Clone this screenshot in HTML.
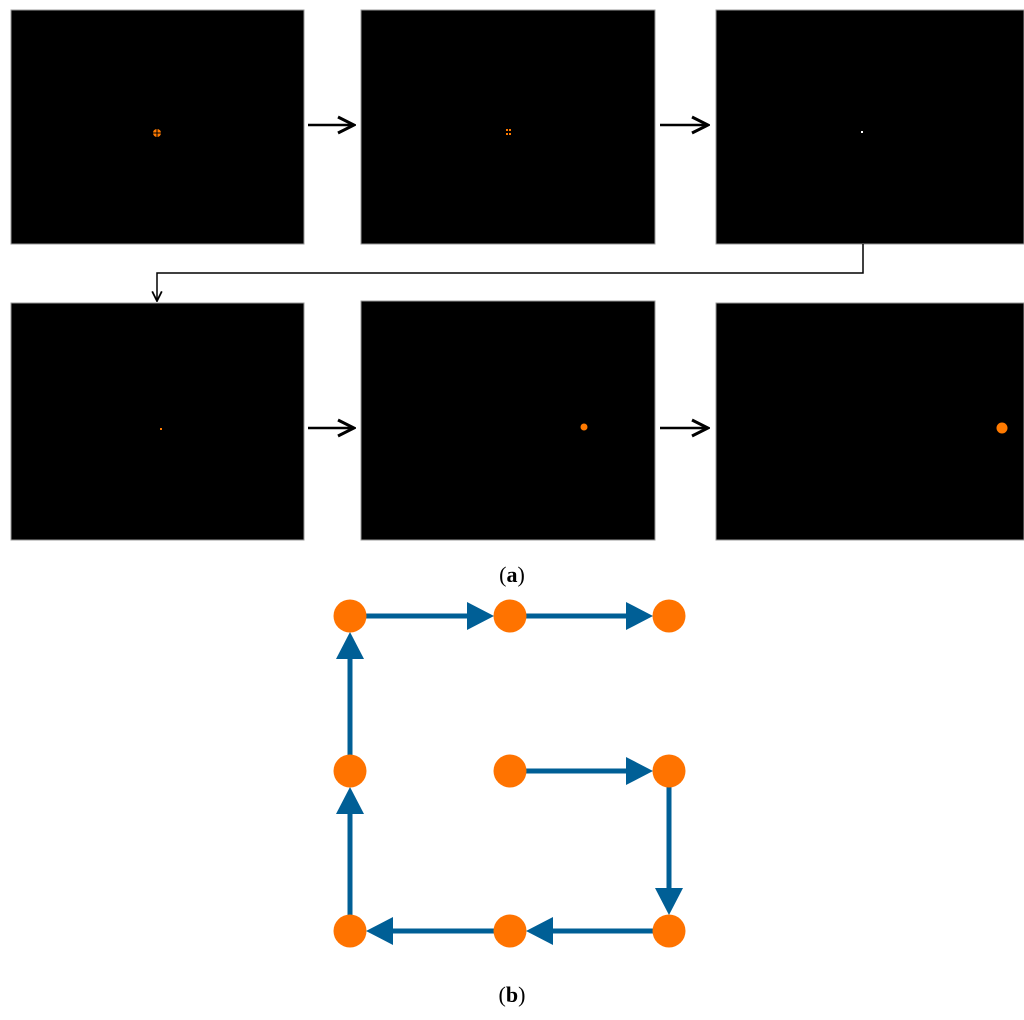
<!DOCTYPE html>
<html><head><style>
body{margin:0;background:#fff;width:1024px;height:1015px;overflow:hidden}
</style></head><body>
<svg width="1024" height="1015" xmlns="http://www.w3.org/2000/svg">
<defs>
<marker id="a" viewBox="0 0 10 10" refX="9" refY="5" markerWidth="8" markerHeight="8" orient="auto"><path d="M1 1L9 5L1 9" fill="none" stroke="#000" stroke-width="1.5"/></marker>
</defs>
<g fill="#000" stroke="#999" stroke-width="1">
<rect x="11" y="10" width="293" height="234"/>
<rect x="361" y="10" width="294" height="234"/>
<rect x="716" y="10" width="308" height="234"/>
<rect x="11" y="303" width="293" height="237"/>
<rect x="361" y="301" width="294" height="239"/>
<rect x="716" y="303" width="308" height="237"/>
</g>
<circle cx="157" cy="133" r="4" fill="#ff7a00"/>
<line x1="157" y1="129" x2="157" y2="137" stroke="#000" stroke-width="1"/>
<line x1="153" y1="133" x2="161" y2="133" stroke="#000" stroke-width="1"/>
<g fill="#ff7a00"><rect x="506" y="129" width="2" height="2"/><rect x="509" y="129" width="2" height="2"/><rect x="506" y="133" width="2" height="2"/><rect x="509" y="133" width="2" height="2"/></g>
<rect x="861" y="131" width="2" height="2" fill="#fff"/>
<rect x="160" y="428" width="2" height="2" fill="#ff7a00"/>
<circle cx="584" cy="427" r="3.5" fill="#ff7a00"/>
<circle cx="1002" cy="428" r="5.5" fill="#ff7a00"/>
<g stroke="#000" stroke-width="2.5" fill="none">
<line x1="308" y1="125" x2="354" y2="125" marker-end="url(#a)"/>
<line x1="660" y1="125" x2="708" y2="125" marker-end="url(#a)"/>
<line x1="308" y1="428" x2="354" y2="428" marker-end="url(#a)"/>
<line x1="660" y1="428" x2="708" y2="428" marker-end="url(#a)"/>
</g>
<path d="M863 244V273H157V301" stroke="#000" stroke-width="1.5" fill="none" marker-end="url(#a)"/>
<text x="512" y="582" text-anchor="middle" font-family="Liberation Serif,serif" font-size="22">(<tspan font-weight="bold">a</tspan>)</text>
<text x="512" y="1002" text-anchor="middle" font-family="Liberation Serif,serif" font-size="22">(<tspan font-weight="bold">b</tspan>)</text>
<g stroke="#005f96" stroke-width="5">
<line x1="350" y1="916" x2="350" y2="810"/>
<line x1="350" y1="756" x2="350" y2="655"/>
<line x1="366" y1="616" x2="470" y2="616"/>
<line x1="526" y1="616" x2="630" y2="616"/>
<line x1="526" y1="771" x2="630" y2="771"/>
<line x1="669" y1="787" x2="669" y2="892"/>
<line x1="653" y1="931" x2="548" y2="931"/>
<line x1="494" y1="931" x2="390" y2="931"/>
</g>
<g fill="#005f96">
<path d="M350 787L336 814H364Z"/>
<path d="M350 632L336 659H364Z"/>
<path d="M494 616L467 602V630Z"/>
<path d="M653 616L626 602V630Z"/>
<path d="M653 771L626 757V785Z"/>
<path d="M669 915L655 888H683Z"/>
<path d="M526 931L553 917V945Z"/>
<path d="M366 931L393 917V945Z"/>
</g>
<g fill="#ff7300">
<circle cx="350" cy="616" r="16.5"/><circle cx="510" cy="616" r="16.5"/><circle cx="669" cy="616" r="16.5"/>
<circle cx="350" cy="771" r="16.5"/><circle cx="510" cy="771" r="16.5"/><circle cx="669" cy="771" r="16.5"/>
<circle cx="350" cy="931" r="16.5"/><circle cx="510" cy="931" r="16.5"/><circle cx="669" cy="931" r="16.5"/>
</g>
</svg>
</body></html>
